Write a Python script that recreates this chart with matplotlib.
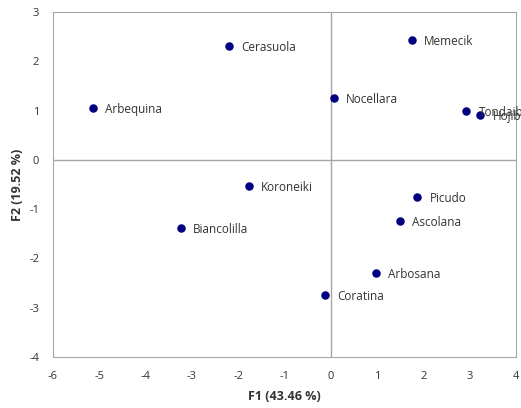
import matplotlib
matplotlib.use("Agg")
import matplotlib.pyplot as plt

nomes = ["Cerasuola", "Memecik", "Arbequina", "Nocellara", "Tondaiblea", "Hojiblanca",
         "Koroneiki", "Picudo", "Ascolana", "Biancolilla", "Arbosana", "Coratina"]
f1 = [-2.20, 1.75, -5.14, 0.06, 2.92, 3.22, -1.77, 1.86, 1.49, -3.24, 0.97, -0.13]
f2 = [2.31, 2.43, 1.05, 1.26, 0.99, 0.91, -0.53, -0.75, -1.24, -1.38, -2.29, -2.74]

plt.rcParams['font.family'] = ['Open Sans', 'DejaVu Sans']
plt.rcParams['axes.unicode_minus'] = False

fig = plt.figure(figsize=(5.21, 4.08), dpi=100)
ax = fig.add_axes([53/521, 51/408, 463/521, 345/408])

ax.axhline(0, color="#a6a6a6", lw=1, zorder=1)
ax.axvline(0, color="#a6a6a6", lw=1, zorder=1)
ax.scatter(f1, f2, s=26, color="#000080", zorder=3)
for n, x, y in zip(nomes, f1, f2):
    ax.annotate(n, (x, y), xytext=(9, -1), textcoords="offset points",
                va="center", fontsize=8.5, color="#333333", annotation_clip=False)

ax.set_xlim(-6, 4)
ax.set_ylim(-4, 3)
ax.set_xticks(range(-6, 5))
ax.set_yticks(range(-4, 4))
ax.tick_params(length=0, labelsize=8, colors="#333333", pad=10)
for s in ax.spines.values():
    s.set_color("#a6a6a6")
ax.set_xlabel("F1 (43.46 %)", fontsize=9, fontweight="bold", color="#333333", labelpad=6)
ax.set_ylabel("F2 (19.52 %)", fontsize=9, fontweight="bold", color="#333333", labelpad=4)

fig.savefig("out.png", dpi=100)
